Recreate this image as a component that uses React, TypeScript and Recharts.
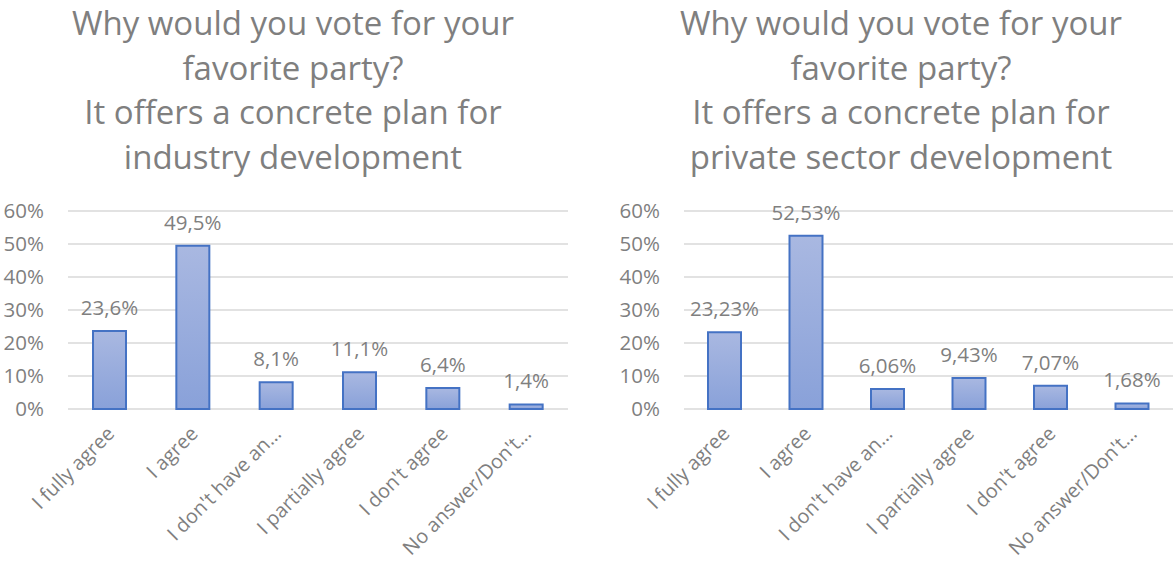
import { Bar, BarChart, CartesianGrid, LabelList, XAxis, YAxis } from "recharts"

const CATEGORIES = [
  "I fully agree",
  "I agree",
  "I don't have an…",
  "I partially agree",
  "I don't agree",
  "No answer/Don't…",
]
const INDUSTRY_VALUES = [23.6, 49.5, 8.1, 11.1, 6.4, 1.4]
const PRIVATE_VALUES = [23.23, 52.53, 6.06, 9.43, 7.07, 1.68]
const Y_TICKS = [0, 10, 20, 30, 40, 50, 60]

const TITLE_INDUSTRY = [
  "Why would you vote for your",
  "favorite party?",
  "It offers a concrete plan for",
  "industry development",
]
const TITLE_PRIVATE = [
  "Why would you vote for your",
  "favorite party?",
  "It offers a concrete plan for",
  "private sector development",
]

const TEXT_COLOR = "#7f7f7f"
const BAR_STROKE = "#4472c4"
const GRID_COLOR = "#d9d9d9"
const FONT = "'Open Sans', sans-serif"
const LABEL_SIZE = 20.5

const fmt = (v: number) => `${String(v).replace(".", ",")}%`

function XTick({ x, y, payload }: any) {
  return (
    <g transform={`translate(${x + 6},${y + 18})`}>
      <text
        x={0}
        y={0}
        textAnchor="end"
        transform="rotate(-45)"
        fill={TEXT_COLOR}
        fontSize={19.8}
        fontFamily={FONT}
      >
        {payload.value}
      </text>
    </g>
  )
}

function Title({ lines, center }: { lines: string[]; center: number }) {
  return (
    <svg
      width={600}
      height={180}
      style={{ position: "absolute", left: center - 300, top: 0 }}
    >
      {lines.map((t, i) => (
        <text
          key={t}
          x={300}
          y={35 + i * 44.5}
          textAnchor="middle"
          fill={TEXT_COLOR}
          fontSize={33}
          fontFamily={FONT}
        >
          {t}
        </text>
      ))}
    </svg>
  )
}

type PanelProps = {
  id: string
  values: number[]
  title: string[]
  left: number
  titleCenter: number
  marginLeft: number
  marginRight: number
}

function Panel({ id, values, title, left, titleCenter, marginLeft, marginRight }: PanelProps) {
  const data = CATEGORIES.map((name, i) => ({ name, value: values[i] }))
  return (
    <>
      <Title lines={title} center={titleCenter} />
      <div style={{ position: "absolute", left, top: 0 }}>
        <BarChart
          width={585}
          height={564}
          data={data}
          margin={{ top: 211, right: marginRight, left: marginLeft, bottom: 5 }}
        >
          <defs>
            <linearGradient id={`grad-${id}`} x1="0" y1="0" x2="0" y2="1">
              <stop offset="0%" stopColor="#a9b8e1" />
              <stop offset="100%" stopColor="#89a1d9" />
            </linearGradient>
          </defs>
          <CartesianGrid vertical={false} stroke={GRID_COLOR} strokeWidth={1.5} />
          <XAxis
            dataKey="name"
            interval={0}
            axisLine={false}
            tickLine={false}
            height={150}
            tick={<XTick />}
          />
          <YAxis
            domain={[0, 60]}
            ticks={Y_TICKS}
            axisLine={false}
            tickLine={false}
            tickMargin={18}
            width={60}
            tickFormatter={(v) => `${v}%`}
            tick={{ fill: TEXT_COLOR, fontSize: LABEL_SIZE, fontFamily: FONT }}
          />
          <Bar
            dataKey="value"
            fill={`url(#grad-${id})`}
            stroke={BAR_STROKE}
            strokeWidth={2}
            barSize={33}
            isAnimationActive={false}
          >
            <LabelList
              dataKey="value"
              position="top"
              offset={16}
              formatter={(v: any) => fmt(Number(v))}
              fill={TEXT_COLOR}
              fontSize={LABEL_SIZE}
              fontFamily={FONT}
            />
          </Bar>
        </BarChart>
      </div>
    </>
  )
}

export default function App() {
  return (
    <div
      style={{
        position: "absolute",
        left: 0,
        top: 0,
        width: 1175,
        height: 564,
        background: "#fff",
        overflow: "hidden",
      }}
    >
      <Panel
        id="industry"
        values={INDUSTRY_VALUES}
        title={TITLE_INDUSTRY}
        left={0}
        titleCenter={293}
        marginLeft={8}
        marginRight={17}
      />
      <Panel
        id="private"
        values={PRIVATE_VALUES}
        title={TITLE_PRIVATE}
        left={590}
        titleCenter={901}
        marginLeft={34}
        marginRight={2}
      />
    </div>
  )
}
